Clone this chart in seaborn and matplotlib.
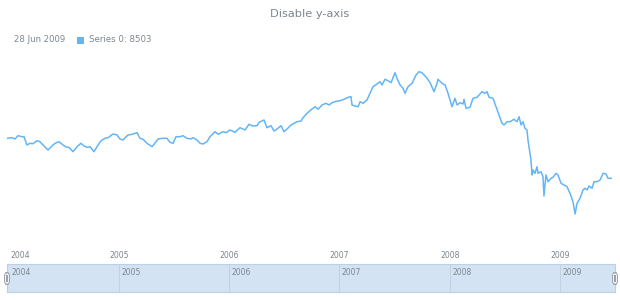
import matplotlib
matplotlib.use("Agg")
import matplotlib.pyplot as plt
from matplotlib.patches import Rectangle, FancyBboxPatch
from matplotlib.transforms import ScaledTranslation
import seaborn as sns
import pandas as pd

# ---- data (decimal years, index values) ----
years = [
    2003.984, 2004.029, 2004.057, 2004.084, 2004.120, 2004.138, 2004.165, 2004.193, 2004.220, 2004.256,
    2004.283, 2004.311, 2004.356, 2004.392, 2004.419, 2004.456, 2004.492, 2004.528, 2004.546, 2004.583,
    2004.619, 2004.655, 2004.682, 2004.710, 2004.737, 2004.773, 2004.800, 2004.837, 2004.873, 2004.900,
    2004.945, 2004.982, 2005.009, 2005.036, 2005.081, 2005.118, 2005.163, 2005.190, 2005.218, 2005.254,
    2005.299, 2005.317, 2005.354, 2005.399, 2005.435, 2005.462, 2005.490, 2005.517, 2005.553, 2005.580,
    2005.617, 2005.653, 2005.671, 2005.707, 2005.735, 2005.762, 2005.798, 2005.825, 2005.871, 2005.898,
    2005.943, 2005.970, 2006.007, 2006.052, 2006.097, 2006.143, 2006.179, 2006.215, 2006.252, 2006.270,
    2006.315, 2006.342, 2006.378, 2006.406, 2006.433, 2006.469, 2006.496, 2006.524, 2006.560, 2006.587,
    2006.614, 2006.651, 2006.669, 2006.705, 2006.750, 2006.778, 2006.805, 2006.841, 2006.877, 2006.905,
    2006.932, 2006.968, 2007.004, 2007.041, 2007.077, 2007.104, 2007.113, 2007.140, 2007.168, 2007.186,
    2007.213, 2007.249, 2007.276, 2007.304, 2007.340, 2007.367, 2007.385, 2007.412, 2007.440, 2007.467,
    2007.503, 2007.521, 2007.549, 2007.576, 2007.594, 2007.621, 2007.657, 2007.694, 2007.721, 2007.748,
    2007.794, 2007.821, 2007.857, 2007.884, 2007.893, 2007.929, 2007.957, 2007.984, 2008.020, 2008.047,
    2008.066, 2008.093, 2008.120, 2008.129, 2008.147, 2008.183, 2008.210, 2008.247, 2008.292, 2008.319,
    2008.338, 2008.356, 2008.392, 2008.419, 2008.446, 2008.474, 2008.492, 2008.519, 2008.546, 2008.582,
    2008.610, 2008.628, 2008.646, 2008.664, 2008.682, 2008.700, 2008.709, 2008.736, 2008.746, 2008.755,
    2008.773, 2008.791, 2008.800, 2008.827, 2008.845, 2008.854, 2008.872, 2008.891, 2008.918, 2008.936,
    2008.963, 2008.981, 2009.009, 2009.036, 2009.063, 2009.090, 2009.117, 2009.136, 2009.154, 2009.181,
    2009.208, 2009.226, 2009.245, 2009.263, 2009.290, 2009.308, 2009.335, 2009.363, 2009.390, 2009.417,
    2009.435, 2009.471,
]
values = [
    10703, 10736, 10665, 10846, 10791, 10791, 10335, 10428, 10406, 10571,
    10516, 10335, 10060, 10280, 10428, 10516, 10335, 10208, 10208, 9966,
    10241, 10428, 10280, 10208, 10241, 9966, 10241, 10571, 10703, 10736,
    10940, 10885, 10665, 10610, 10885, 10923, 11011, 10703, 10648, 10428,
    10241, 10373, 10665, 10703, 10703, 10483, 10428, 10791, 10791, 10846,
    10703, 10665, 10736, 10610, 10428, 10390, 10516, 10791, 11066, 10923,
    11066, 11011, 11160, 11033, 11286, 11160, 11473, 11380, 11396, 11583,
    11710, 11286, 11396, 11105, 11215, 11396, 11066, 11215, 11435, 11528,
    11616, 11655, 11836, 12078, 12315, 12441, 12298, 12535, 12628, 12535,
    12661, 12738, 12771, 12848, 12958, 12991, 12535, 12480, 12441, 12716,
    12628, 12810, 13178, 13541, 13690, 13816, 13635, 13948, 13871, 13761,
    14311, 14003, 13635, 13453, 13178, 13541, 13728, 14185, 14366, 14311,
    14003, 13761, 13266, 13728, 13948, 13728, 13635, 13178, 12441, 12903,
    12535, 12661, 12590, 12848, 12353, 12408, 12903, 12958, 13266, 13178,
    13266, 12958, 12903, 12441, 11985, 11528, 11435, 11616, 11616, 11748,
    11616, 11891, 11435, 11616, 11253, 11160, 10610, 9510, 8685, 8960,
    8778, 9141, 8778, 8866, 8591, 7530, 8685, 8316, 8503, 8558,
    8778, 8685, 8228, 8135, 8041, 7678, 7216, 6540, 7128, 7403,
    7860, 7953, 7860, 8080, 7953, 8316, 8316, 8410, 8778, 8740,
    8503, 8503,
]
tick_years = [2004, 2005, 2006, 2007, 2008, 2009]
tick_labels = ["2004", "2005", "2006", "2007", "2008", "2009"]
title = "Disable y-axis"
legend_date = "28 Jun 2009"
series_name = "Series 0"

# ---- style ----
sns.set_theme(style="white")
plt.rcParams["font.family"] = ["DejaVu Sans"]
LINE = "#64b5f6"
GRAY = "#7c868e"

W, H = 620, 300
fig = plt.figure(figsize=(W / 100, H / 100), dpi=100)
fig.patch.set_facecolor("white")

def px_rect(x0, y0, x1, y1):
    return [x0 / W, 1 - y1 / H, (x1 - x0) / W, (y1 - y0) / H]

# main plot
ax = fig.add_axes(px_rect(7, 60, 612, 240))
df = pd.DataFrame({"year": years, "value": values})
sns.lineplot(data=df, x="year", y="value", ax=ax, color=LINE, linewidth=1.1)
ax.set_xlim(2003.984, 2009.471)
ax.set_ylim(5109.5, 15009.5)
ax.set_yticks([])
ax.set_xlabel("")
ax.set_ylabel("")
for s in ax.spines.values():
    s.set_visible(False)
ax.set_xticks(tick_years)
ax.set_xticklabels(tick_labels, fontsize=5.6, color=GRAY)
ax.tick_params(axis="x", length=0, pad=8)
first = ax.get_xticklabels()[0]
first.set_ha("left")
first.set_transform(first.get_transform() + ScaledTranslation(2 / 100, 0, fig.dpi_scale_trans))

# title
fig.text(310 / W, 1 - 14 / H, title, ha="center", va="center", fontsize=8.2, color=GRAY)

# legend
last_value = values[-1]
fig.text(14 / W, 1 - 40 / H, legend_date, ha="left", va="center", fontsize=6.1, color=GRAY)
fig.patches.append(Rectangle((77 / W, 1 - 43.5 / H), 7 / W, 7 / H, transform=fig.transFigure,
                             facecolor=LINE, edgecolor="none"))
fig.text(89 / W, 1 - 40 / H, f"{series_name}: {last_value}", ha="left", va="center",
         fontsize=6.2, color=GRAY)

# scroller
ax2 = fig.add_axes(px_rect(7, 264, 615, 292))
ax2.set_xlim(2003.984, 2009.499)
ax2.set_ylim(0, 1)
ax2.set_facecolor("#d3e3f4")
for s in ax2.spines.values():
    s.set_color("#bcd0e6")
    s.set_linewidth(0.8)
ax2.set_xticks([])
ax2.set_yticks([])
for ty, tl in zip(tick_years, tick_labels):
    if ty > 2004:
        ax2.axvline(ty, color="#c3d2e2", linewidth=0.8)
    ax2.text(ty, 0.68, tl, transform=ax2.get_xaxis_transform(), ha="left", va="center",
             fontsize=5.5, color=GRAY)
    # shift text slightly right of divider
for t in ax2.texts:
    t.set_transform(t.get_transform() + ScaledTranslation(2.5 / 100, 0, fig.dpi_scale_trans))

# handles
for hx in (7, 615):
    fig.patches.append(FancyBboxPatch(((hx - 2.5) / W, 1 - 284.5 / H), 5 / W, 12 / H,
                                      boxstyle="round,pad=0,rounding_size=0.006",
                                      transform=fig.transFigure, facecolor="#f4f4f4",
                                      edgecolor="#9aa3ab", linewidth=0.7, mutation_aspect=2))
    fig.patches.append(Rectangle(((hx - 0.6) / W, 1 - 282 / H), 1.2 / W, 7 / H,
                                 transform=fig.transFigure, facecolor="#9aa3ab", edgecolor="none"))

fig.savefig("out.png", dpi=100, facecolor="white")
